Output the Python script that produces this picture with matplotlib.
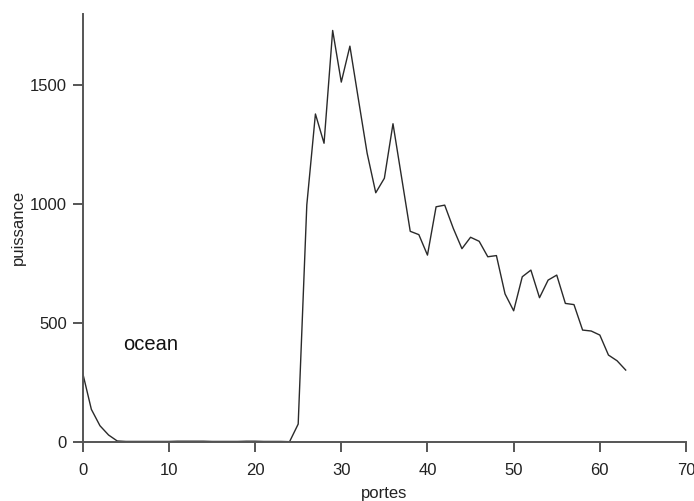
import numpy as np
import matplotlib
matplotlib.use("Agg")
import matplotlib.pyplot as plt

plt.rcParams['font.family'] = ['Liberation Sans', 'DejaVu Sans']

# puissance par porte
portes = np.arange(0, 64)
puissance = [288, 136, 67, 28, 3, 1, 1, 1, 1, 1,
             1, 2, 2, 2, 2, 1, 1, 1, 1, 2,
             2, 1, 1, 1, 0, 74, 995, 1377, 1254, 1728,
             1511, 1662, 1436, 1212, 1046, 1107, 1336, 1110, 884, 870,
             784, 987, 994, 896, 811, 859, 842, 777, 782, 621,
             550, 693, 721, 605, 679, 700, 581, 576, 469, 465,
             448, 364, 340, 301]

xticks = [0, 10, 20, 30, 40, 50, 60, 70]
yticks = [0, 500, 1000, 1500]

fig = plt.figure(figsize=(6.94, 5.01), dpi=100)
ax = fig.add_axes([0.1192, 0.1184, 0.8693, 0.8536])

ax.plot(portes, puissance, color='#2a2a2a', lw=1.0)

ax.set_xlim(0, 70)
ax.set_ylim(0, 1797)
ax.set_xticks(xticks)
ax.set_yticks(yticks)

for s in ['top', 'right']:
    ax.spines[s].set_visible(False)
for s in ['left', 'bottom']:
    ax.spines[s].set_color('#555555')
    ax.spines[s].set_linewidth(1.4)

ax.tick_params(axis='both', direction='out', length=7.5, width=1.4,
               color='#555555', labelsize=12, labelcolor='#222222')
ax.tick_params(axis='x', pad=8)
ax.tick_params(axis='y', pad=4)

ax.set_xlabel('portes', fontsize=12, color='#222222', labelpad=5.5)
ax.set_ylabel('puissance', fontsize=12, color='#222222', labelpad=2.5)

ax.text(4.7, 385, 'ocean', fontsize=14.5, color='#111111',
        ha='left', va='baseline')

fig.savefig('out.png', dpi=100)
